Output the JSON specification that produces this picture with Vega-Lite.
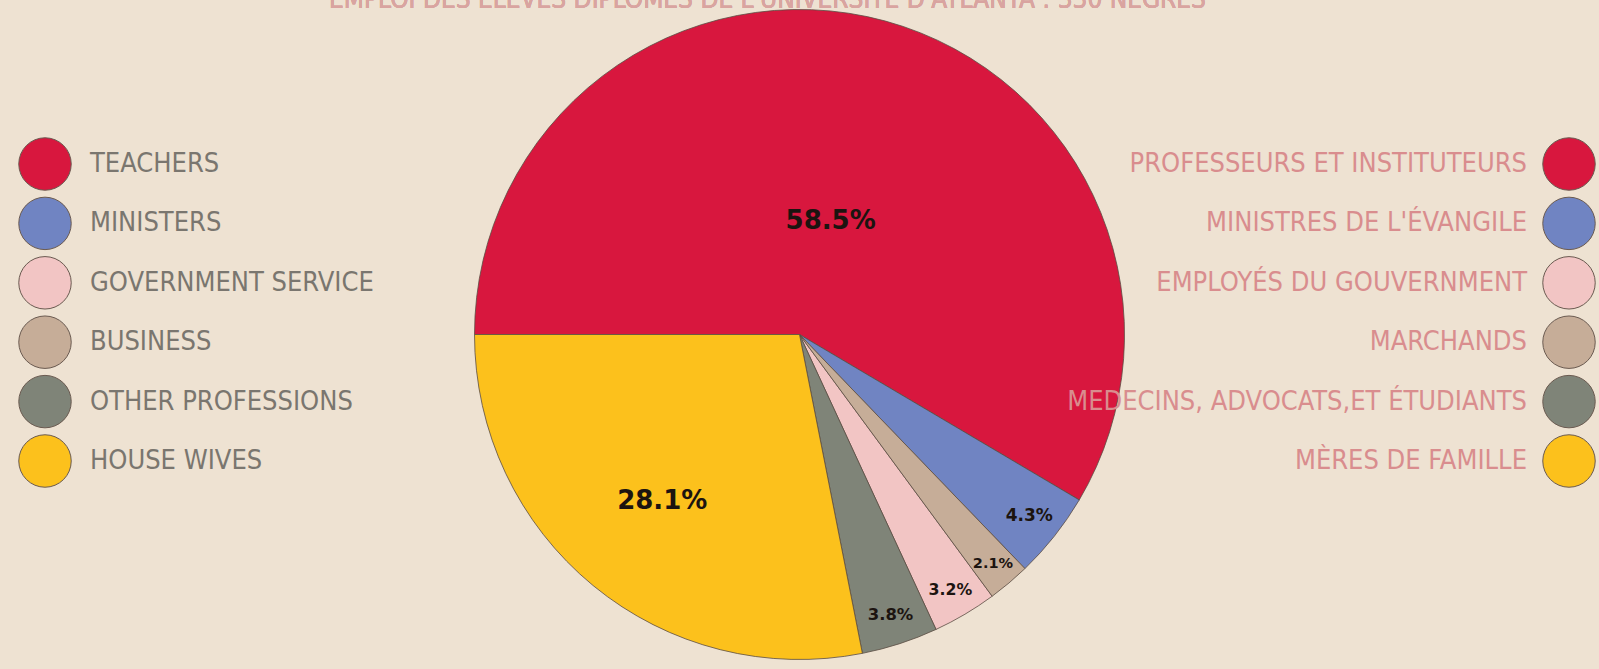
{
  "$schema": "https://vega.github.io/schema/vega-lite/v6.json",
  "width": 1599,
  "height": 669,
  "autosize": {"type": "fit", "contains": "padding"},
  "padding": 0,
  "background": "#eee2d2",
  "config": {"view": {"stroke": null}},
  "data": {
    "values": [
      {"en": "TEACHERS", "fr": "PROFESSEURS ET  INSTITUTEURS", "share": 58.5, "label": "58.5%", "pieOrder": 1},
      {"en": "MINISTERS", "fr": "MINISTRES DE  L'ÉVANGILE", "share": 4.3, "label": "4.3%", "pieOrder": 2},
      {"en": "GOVERNMENT  SERVICE", "fr": "EMPLOYÉS DU GOUVERNMENT", "share": 3.2, "label": "3.2%", "pieOrder": 4},
      {"en": "BUSINESS", "fr": "MARCHANDS", "share": 2.1, "label": "2.1%", "pieOrder": 3},
      {"en": "OTHER  PROFESSIONS", "fr": "MEDECINS, ADVOCATS,ET ÉTUDIANTS", "share": 3.8, "label": "3.8%", "pieOrder": 5},
      {"en": "HOUSE  WIVES", "fr": "MÈRES  DE  FAMILLE", "share": 28.1, "label": "28.1%", "pieOrder": 6}
    ]
  },
  "layer": [
    {
      "mark": {"type": "arc", "outerRadius": 325, "stroke": "#5b4c42", "strokeWidth": 0.8},
      "encoding": {
        "theta": {"field": "share", "type": "quantitative", "stack": true, "scale": {"range": [4.712389, 10.995574]}},
        "color": {
          "field": "en", "type": "nominal", "legend": null,
          "scale": {
            "domain": ["TEACHERS", "MINISTERS", "GOVERNMENT  SERVICE", "BUSINESS", "OTHER  PROFESSIONS", "HOUSE  WIVES"],
            "range": ["#d8173e", "#7084c2", "#f2c5c4", "#c6ad98", "#7f8478", "#fcc11c"]
          }
        },
        "order": {"field": "pieOrder", "type": "quantitative"}
      }
    },
    {
      "mark": {"type": "text", "font": "DejaVu Sans", "fontWeight": "bold", "color": "#1c1410"},
      "encoding": {
        "theta": {"field": "share", "type": "quantitative", "stack": true},
        "radius": {"field": "share", "type": "quantitative", "scale": {"type": "linear", "domain": [2.1, 58.5], "range": [300, 118], "zero": false}},
        "text": {"field": "label", "type": "nominal"},
        "size": {"field": "share", "type": "quantitative", "legend": null, "scale": {"domain": [2.1, 4.3, 28.1], "range": [14.5, 17, 26], "clamp": true}},
        "order": {"field": "pieOrder", "type": "quantitative"}
      }
    },
    {
      "mark": {"type": "text", "baseline": "middle", "align": "center", "dx": -32, "clip": true, "font": "DejaVu Sans Condensed, Liberation Sans, sans-serif", "fontSize": 26, "color": "#d9a4a0", "opacity": 0.8},
      "encoding": {
        "y": {"value": 0},
        "text": {"value": "EMPLOI DES ÉLÈVES DIPLÔMÉS DE L'UNIVERSITÉ D'ATLANTA : 330 NÈGRES"}
      }
    },
    {
      "mark": {"type": "point", "filled": true, "shape": "circle", "size": 2750, "stroke": "#6a5a50", "strokeWidth": 1, "opacity": 1},
      "encoding": {
        "x": {"datum": "left", "type": "nominal", "scale": {"type": "point", "domain": ["left", "right"], "range": [45, 1569], "padding": 0}, "axis": null},
        "y": {"field": "en", "type": "nominal", "sort": ["TEACHERS", "MINISTERS", "GOVERNMENT  SERVICE", "BUSINESS", "OTHER  PROFESSIONS", "HOUSE  WIVES"], "scale": {"type": "point", "range": [164, 461], "padding": 0}, "axis": null},
        "color": {"field": "en", "type": "nominal", "legend": null}
      }
    },
    {
      "mark": {"type": "point", "filled": true, "shape": "circle", "size": 2750, "stroke": "#6a5a50", "strokeWidth": 1, "opacity": 1},
      "encoding": {
        "x": {"datum": "right", "type": "nominal"},
        "y": {"field": "en", "type": "nominal", "sort": ["TEACHERS", "MINISTERS", "GOVERNMENT  SERVICE", "BUSINESS", "OTHER  PROFESSIONS", "HOUSE  WIVES"]},
        "color": {"field": "en", "type": "nominal", "legend": null}
      }
    },
    {
      "mark": {"type": "text", "align": "left", "baseline": "middle", "dx": 45, "font": "DejaVu Sans Condensed, Liberation Sans, sans-serif", "fontSize": 27, "color": "#7a766f"},
      "encoding": {
        "x": {"datum": "left", "type": "nominal"},
        "y": {"field": "en", "type": "nominal", "sort": ["TEACHERS", "MINISTERS", "GOVERNMENT  SERVICE", "BUSINESS", "OTHER  PROFESSIONS", "HOUSE  WIVES"]},
        "text": {"field": "en", "type": "nominal"}
      }
    },
    {
      "mark": {"type": "text", "align": "right", "baseline": "middle", "dx": -42, "font": "DejaVu Sans Condensed, Liberation Sans, sans-serif", "fontSize": 27, "color": "#d98d8e"},
      "encoding": {
        "x": {"datum": "right", "type": "nominal"},
        "y": {"field": "en", "type": "nominal", "sort": ["TEACHERS", "MINISTERS", "GOVERNMENT  SERVICE", "BUSINESS", "OTHER  PROFESSIONS", "HOUSE  WIVES"]},
        "text": {"field": "fr", "type": "nominal"}
      }
    }
  ]
}
